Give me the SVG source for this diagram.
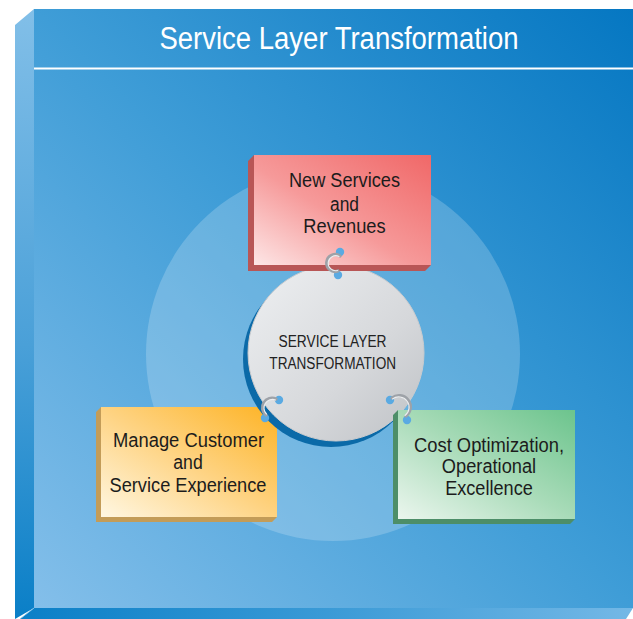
<svg xmlns="http://www.w3.org/2000/svg" width="633" height="619" viewBox="0 0 633 619">
  <defs>
    <linearGradient id="gFront" x1="0" y1="1" x2="1" y2="0">
      <stop offset="0" stop-color="#84bfea"/>
      <stop offset="0.5" stop-color="#3f9dd7"/>
      <stop offset="1" stop-color="#0577c2"/>
    </linearGradient>
    <linearGradient id="gLeft" x1="0" y1="0" x2="0" y2="1">
      <stop offset="0" stop-color="#82bfe8"/>
      <stop offset="0.55" stop-color="#4aa0d8"/>
      <stop offset="1" stop-color="#0a7fc7"/>
    </linearGradient>
    <linearGradient id="gBottom" x1="0" y1="0" x2="1" y2="0">
      <stop offset="0" stop-color="#0a7fc7"/>
      <stop offset="0.5" stop-color="#3a9ad6"/>
      <stop offset="1" stop-color="#74b8e6"/>
    </linearGradient>
    <linearGradient id="gRed" x1="0" y1="1" x2="1" y2="0">
      <stop offset="0" stop-color="#fde6e6"/>
      <stop offset="0.45" stop-color="#f69a9a"/>
      <stop offset="1" stop-color="#f06868"/>
    </linearGradient>
    <linearGradient id="gYellow" x1="0" y1="1" x2="1" y2="0">
      <stop offset="0" stop-color="#fff7e2"/>
      <stop offset="0.5" stop-color="#fed382"/>
      <stop offset="1" stop-color="#fdb324"/>
    </linearGradient>
    <linearGradient id="gGreen" x1="0" y1="1" x2="1" y2="0">
      <stop offset="0" stop-color="#ebf6ee"/>
      <stop offset="0.5" stop-color="#a8dbb8"/>
      <stop offset="1" stop-color="#6cc48d"/>
    </linearGradient>
    <linearGradient id="gHub" x1="0" y1="0" x2="1" y2="1">
      <stop offset="0" stop-color="#eef0f2"/>
      <stop offset="0.6" stop-color="#d6d8db"/>
      <stop offset="1" stop-color="#bec1c5"/>
    </linearGradient>
    <style>
      .box-text { font-family: "Liberation Sans", Arial, sans-serif; font-size: 20px; fill: #1c1c1c; text-anchor: middle; }
      .hub-text { font-family: "Liberation Sans", Arial, sans-serif; font-size: 16px; fill: #222222; text-anchor: middle; }
      .title { font-family: "Liberation Sans", Arial, sans-serif; font-size: 31px; fill: #ffffff; text-anchor: middle; }
      .ring { fill: none; stroke: #9ea2a8; stroke-width: 3.2; stroke-linecap: round; }
      .ring-hi { fill: none; stroke: #eceef0; stroke-width: 1.1; stroke-linecap: round; }
      .hole { fill: #5aaae2; }
    </style>
  </defs>

  <!-- panel: left side, bottom side, front face -->
  <g id="panel">
    <polygon points="15,25 34,9 34,608 15,619" fill="url(#gLeft)"/>
    <polygon points="34,608 633,608 626,619 20,619" fill="url(#gBottom)"/>
    <line x1="34" y1="608" x2="20" y2="619" stroke="#8cc4ea" stroke-width="0.8"/>
    <rect x="34" y="9" width="599" height="599" fill="url(#gFront)"/>
    <text class="title" x="339" y="49" textLength="359" lengthAdjust="spacingAndGlyphs">Service Layer Transformation</text>
    <line x1="34" y1="68.5" x2="633" y2="68.5" stroke="#ffffff" stroke-width="2"/>
    <circle cx="333" cy="354" r="187" fill="#ffffff" fill-opacity="0.2"/>
  </g>

  <!-- Manage Customer node -->
  <g id="node-customer">
    <polygon points="101,407 96,412 96,522 272,522 277,517 101,517" fill="#c39c58"/>
    <rect x="101" y="407" width="176" height="110" fill="url(#gYellow)"/>
    <text class="box-text" x="188.5" y="447" textLength="151" lengthAdjust="spacingAndGlyphs">Manage Customer</text>
    <text class="box-text" x="188" y="469" textLength="29.5" lengthAdjust="spacingAndGlyphs">and</text>
    <text class="box-text" x="188" y="492" textLength="157" lengthAdjust="spacingAndGlyphs">Service Experience</text>
  </g>

  <!-- central hub -->
  <g id="node-hub">
    <circle cx="331" cy="359" r="88" fill="#0b6aa8"/>
    <circle cx="336" cy="353" r="88" fill="url(#gHub)" stroke="#c9cbce" stroke-width="1"/>
    <text class="hub-text" x="332.5" y="347" textLength="108" lengthAdjust="spacingAndGlyphs">SERVICE LAYER</text>
    <text class="hub-text" x="332.7" y="369" textLength="126.7" lengthAdjust="spacingAndGlyphs">TRANSFORMATION</text>
  </g>

  <!-- Cost Optimization node -->
  <g id="node-cost">
    <polygon points="398,410 393,415 393,524 570,524 575,519 398,519" fill="#4d8e68"/>
    <rect x="398" y="410" width="177" height="109" fill="url(#gGreen)"/>
    <text class="box-text" x="489" y="452" textLength="150" lengthAdjust="spacingAndGlyphs">Cost Optimization,</text>
    <text class="box-text" x="489" y="473" textLength="94.3" lengthAdjust="spacingAndGlyphs">Operational</text>
    <text class="box-text" x="489" y="495" textLength="87.7" lengthAdjust="spacingAndGlyphs">Excellence</text>
  </g>

  <!-- New Services node -->
  <g id="node-services">
    <polygon points="254,155 248,161 248,271 425,271 431,265 254,265" fill="#b85656"/>
    <rect x="254" y="155" width="177" height="110" fill="url(#gRed)"/>
    <text class="box-text" x="344.5" y="187" textLength="111" lengthAdjust="spacingAndGlyphs">New Services</text>
    <text class="box-text" x="344.5" y="211" textLength="29" lengthAdjust="spacingAndGlyphs">and</text>
    <text class="box-text" x="344.5" y="233" textLength="82.4" lengthAdjust="spacingAndGlyphs">Revenues</text>
  </g>

  <!-- ring links between the hub and each node -->
  <g id="connectors">
    <circle class="hole" cx="340" cy="252" r="4.2"/>
    <circle class="hole" cx="338" cy="275" r="4.2"/>
    <path class="ring" d="M340,256 A8.5,8.5 0 1 0 338,271"/>
    <path class="ring-hi" d="M339,256.5 A7.5,7.5 0 1 0 337.5,270.5"/>

    <circle class="hole" cx="279" cy="400" r="4.2"/>
    <circle class="hole" cx="265" cy="418" r="4.2"/>
    <path class="ring" d="M276,399 A9.5,9.5 0 0 0 266,415"/>
    <path class="ring-hi" d="M275.5,400 A8.5,8.5 0 0 0 266.5,414"/>

    <circle class="hole" cx="390" cy="400" r="4.2"/>
    <circle class="hole" cx="407" cy="420" r="4.2"/>
    <path class="ring" d="M392,398 A10,10 0 0 1 406,416"/>
    <path class="ring-hi" d="M392.5,399 A9,9 0 0 1 405,415.5"/>
  </g>
</svg>
